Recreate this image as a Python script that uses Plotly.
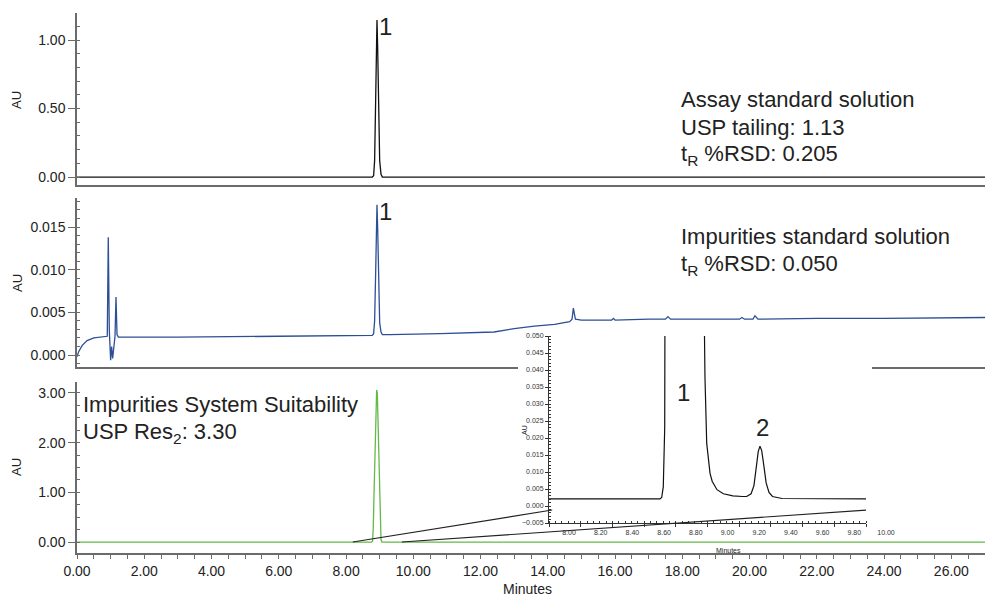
import plotly.graph_objects as go

W, H = 985, 596
FONT = "Arial, Liberation Sans, sans-serif"

# ---------------- data ----------------
# Panel 1: Assay standard solution (AU vs minutes)
assay_t = [0.0, 4.0, 8.78, 8.82, 8.85, 8.88, 8.91, 8.92, 8.94, 8.97, 9.00, 9.04, 9.08, 14.0, 27.0]
assay_au = [0.0, 0.0, 0.0, 0.01, 0.12, 0.55, 1.10, 1.145, 0.95, 0.40, 0.12, 0.02, 0.0, 0.0, 0.0]

# Panel 2: Impurities standard solution
imp_t = [0.00, 0.05, 0.15, 0.30, 0.50, 0.80, 0.90, 0.93, 0.96, 1.00, 1.03, 1.06, 1.09, 1.13,
         1.16, 1.19, 1.23, 1.40, 3.0, 6.0, 8.78, 8.82, 8.85, 8.88, 8.91, 8.92, 8.94, 8.97,
         9.00, 9.04, 9.08, 9.30, 10.8, 12.4, 13.0, 13.6, 14.2, 14.65, 14.72, 14.76, 14.82,
         15.0, 15.9, 15.95, 16.0, 17.0, 17.5, 17.57, 17.65, 19.0, 19.7, 19.77, 19.85, 20.1,
         20.16, 20.25, 22.0, 24.0, 27.0]
imp_au = [-0.0002, 0.0004, 0.0011, 0.0017, 0.0020, 0.0021, 0.0022, 0.0138, 0.0030, -0.0006,
          0.0010, -0.0004, 0.0005, 0.0022, 0.0068, 0.0024, 0.0021, 0.0021, 0.0021, 0.0022,
          0.0023, 0.0025, 0.0040, 0.0095, 0.0168, 0.0176, 0.0150, 0.0075, 0.0038, 0.0027,
          0.0024, 0.0024, 0.0025, 0.0027, 0.0031, 0.0034, 0.0036, 0.0039, 0.0042, 0.0055,
          0.0042, 0.0041, 0.0041, 0.0043, 0.0041, 0.0042, 0.0042, 0.0045, 0.0042, 0.0042,
          0.0042, 0.0044, 0.0042, 0.0042, 0.0046, 0.0042, 0.0043, 0.0043, 0.0044]

# Panel 3: Impurities system suitability
sst_t = [0.0, 4.0, 8.76, 8.79, 8.81, 8.83, 8.86, 8.89, 8.91, 8.93, 8.96, 8.99, 9.01, 9.04, 9.07, 14.0, 27.0]
sst_au = [0.0, 0.0, 0.0, 0.02, 0.3, 0.9, 2.0, 2.9, 3.06, 3.0, 2.2, 1.0, 0.4, 0.05, 0.0, 0.0, 0.0]

# Inset: system suitability, 8-10 min enlarged
zoom_t = [8.00, 8.30, 8.60, 8.70, 8.711, 8.721, 8.73, 8.74, 8.75, 8.80, 8.86, 8.92, 8.975,
          8.984, 8.995, 9.016, 9.03, 9.06, 9.10, 9.16, 9.22, 9.247, 9.275, 9.293, 9.308,
          9.320, 9.331, 9.342, 9.355, 9.370, 9.388, 9.41, 9.47, 9.70, 10.00]
zoom_au = [0.0021, 0.0021, 0.0021, 0.0021, 0.0025, 0.0056, 0.023, 0.048, 0.12, 1.5, 3.0, 1.5,
           0.075, 0.038, 0.0184, 0.0096, 0.0072, 0.0048, 0.0036, 0.0030, 0.0028, 0.0028,
           0.0036, 0.0060, 0.0115, 0.0160, 0.0176, 0.0163, 0.0120, 0.0068, 0.0040, 0.0028,
           0.0022, 0.0021, 0.0021]

# zoom window connectors: main-axis start/end (min) -> inset corners (min, AU)
zoom_from = [8.2, 9.66]
zoom_to_t = [8.02, 10.0]
zoom_to_au = -0.0012

# ---------------- layout helpers ----------------
def px(x):
    return x / W

def py(y):
    return 1 - y / H

def to_paper(v, rng, dom):
    return dom[0] + (v - rng[0]) / (rng[1] - rng[0]) * (dom[1] - dom[0])

X_DOM = [px(77), 1.0]
P1_DOM = [py(185), py(13)]
P2_DOM = [py(367), py(198)]
P3_DOM = [py(553), py(382)]
MASK_X = [px(518), px(872)]
MASK_Y = [py(541), py(333)]
IN_X = [px(549), px(866)]
IN_Y = [py(523), py(336)]

XR = [0, 27]
Y1R = [-0.058, 1.197]
Y2R = [-0.0014, 0.0184]
Y3R = [-0.22, 3.22]
IXR = [8, 10]
IYR = [-0.005, 0.050]

AXC = "#6b6b6b"
TXT = "#222222"

fig = go.Figure()
fig.add_trace(go.Scatter(x=assay_t, y=assay_au, xaxis="x", yaxis="y", mode="lines",
                         line=dict(color="#111111", width=1.3), hoverinfo="skip"))
fig.add_trace(go.Scatter(x=imp_t, y=imp_au, xaxis="x2", yaxis="y2", mode="lines",
                         line=dict(color="#2c4f96", width=1.3), hoverinfo="skip"))
fig.add_trace(go.Scatter(x=sst_t, y=sst_au, xaxis="x3", yaxis="y3", mode="lines",
                         line=dict(color="#64b94a", width=1.3), hoverinfo="skip"))
fig.add_trace(go.Scatter(x=[None], y=[None], xaxis="x4", yaxis="y4", mode="lines",
                         hoverinfo="skip"))
fig.add_trace(go.Scatter(x=zoom_t, y=zoom_au, xaxis="x5", yaxis="y5", mode="lines",
                         line=dict(color="#111111", width=1.2), hoverinfo="skip"))

common_x = dict(range=XR, domain=X_DOM, showline=True, linecolor=AXC, linewidth=1.5,
                showgrid=False, zeroline=False, automargin=False)
common_y = dict(showline=True, linecolor=AXC, linewidth=1.5, showgrid=False, zeroline=False,
                ticks="outside", ticklen=7, tickcolor=AXC, automargin=False,
                tickfont=dict(family=FONT, size=14, color=TXT))

fig.update_layout(
    width=W, height=H, margin=dict(l=0, r=0, t=0, b=0),
    paper_bgcolor="white", plot_bgcolor="white", showlegend=False, template="none",
    xaxis=dict(**common_x, anchor="y", showticklabels=False, ticks=""),
    xaxis2=dict(**common_x, anchor="y2", showticklabels=False, ticks=""),
    xaxis3=dict(**common_x, anchor="y3", ticks="outside", ticklen=4, tickcolor=AXC,
                dtick=2, tickformat=".2f", tickfont=dict(family=FONT, size=14, color=TXT),
                minor=dict(dtick=0.5, ticks="outside", ticklen=4, tickcolor=AXC)),
    yaxis=dict(**common_y, anchor="x", domain=P1_DOM, range=Y1R, dtick=0.5, tickformat=".2f",
               minor=dict(dtick=0.1, ticks="inside", ticklen=3, tickcolor=AXC)),
    yaxis2=dict(**common_y, anchor="x2", domain=P2_DOM, range=Y2R, dtick=0.005, tickformat=".3f",
                minor=dict(dtick=0.001, ticks="inside", ticklen=3, tickcolor=AXC)),
    yaxis3=dict(**common_y, anchor="x3", domain=P3_DOM, range=Y3R, dtick=1, tickformat=".2f",
                minor=dict(dtick=0.25, ticks="inside", ticklen=3, tickcolor=AXC)),
    xaxis4=dict(domain=MASK_X, anchor="y4", range=[0, 1], visible=False),
    yaxis4=dict(domain=MASK_Y, anchor="x4", range=[0, 1], visible=False),
    xaxis5=dict(domain=IN_X, anchor="y5", range=IXR, showline=True, linecolor="#333333",
                linewidth=1, showgrid=False, zeroline=False, ticks="outside", ticklen=3,
                tickcolor="#333333", dtick=0.2, tickformat=".2f", ticklabelshift=20,
                tickfont=dict(family=FONT, size=7, color="#333333"), automargin=False,
                minor=dict(dtick=0.04, ticks="inside", ticklen=2, tickcolor="#333333")),
    yaxis5=dict(domain=IN_Y, anchor="x5", range=IYR, showline=True, linecolor="#333333",
                linewidth=1, showgrid=False, zeroline=False, ticks="outside", ticklen=3,
                tickcolor="#333333", dtick=0.005, tickformat=".3f",
                tickfont=dict(family=FONT, size=7, color="#333333"), automargin=False,
                minor=dict(dtick=0.001, ticks="inside", ticklen=2, tickcolor="#333333")),
)

# zoom connector lines
for t_from, t_to in zip(zoom_from, zoom_to_t):
    fig.add_shape(type="line", xref="paper", yref="paper", layer="above",
                  x0=to_paper(t_from, XR, X_DOM), y0=to_paper(0, Y3R, P3_DOM),
                  x1=to_paper(t_to, IXR, IN_X), y1=to_paper(zoom_to_au, IYR, IN_Y),
                  line=dict(color="#222222", width=1.1))

def text(s, x, y, size, xanchor="left", angle=0, xref="paper", yref="paper"):
    fig.add_annotation(text=s, x=x, y=y, xref=xref, yref=yref, showarrow=False,
                       xanchor=xanchor, yanchor="middle", textangle=angle,
                       font=dict(family=FONT, size=size, color=TXT))

# panel notes
text("Assay standard solution", px(679), py(100), 22)
text("USP tailing: 1.13", px(679), py(127), 22)
text("t<sub>R</sub> %RSD: 0.205", px(679), py(155), 22)
text("Impurities standard solution", px(679), py(236), 22)
text("t<sub>R</sub> %RSD: 0.050", px(679), py(265), 22)
text("Impurities System Suitability", px(81), py(404), 22)
text("USP Res<sub>2</sub>: 3.30", px(81), py(433), 22)

# peak labels
text("1", 9.16, 1.095, 24, "center", xref="x", yref="y")
text("1", 9.16, 0.0168, 24, "center", xref="x2", yref="y2")
text("1", 8.85, 0.0334, 24, "center", xref="x5", yref="y5")
text("2", 9.345, 0.0231, 24, "center", xref="x5", yref="y5")

# axis titles
text("AU", px(17), py(100), 13, "center", angle=-90)
text("AU", px(17), py(283), 13, "center", angle=-90)
text("AU", px(17), py(467), 13, "center", angle=-90)
text("Minutes", px(527), py(589), 14, "center")
text("AU", px(524), py(430), 7, "center", angle=-90)
text("Minutes", px(728), py(550), 7, "center")

fig.write_html("out.html", config={"displayModeBar": False},
               post_script="document.body.style.margin='0';")
